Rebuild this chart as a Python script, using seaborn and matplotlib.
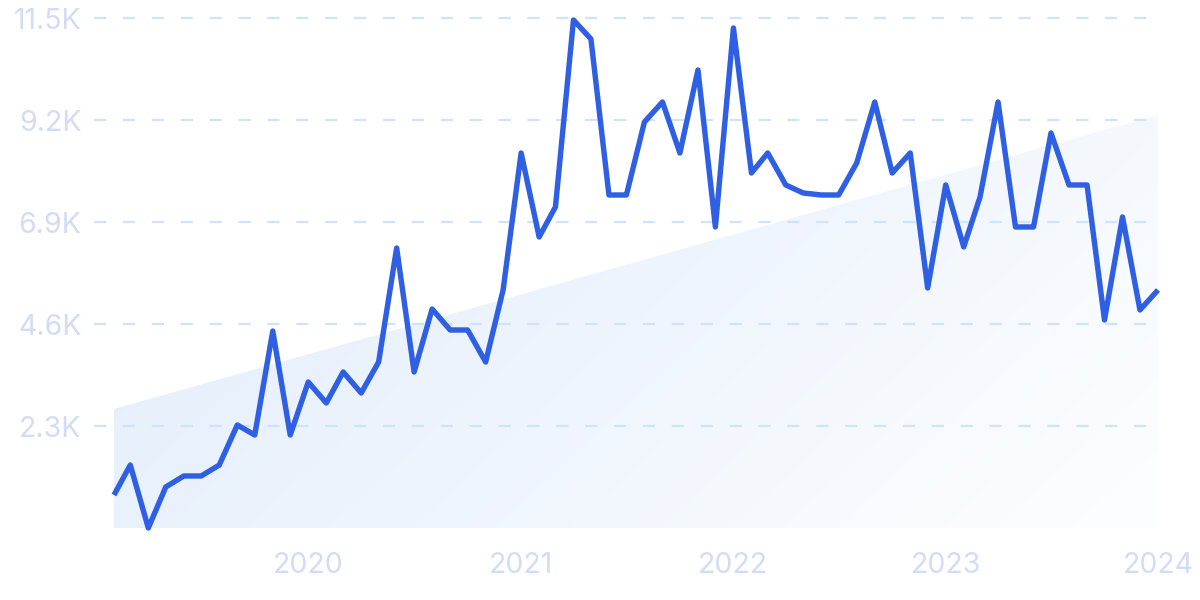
import numpy as np
import pandas as pd
import matplotlib
matplotlib.use("Agg")
import matplotlib.pyplot as plt
import matplotlib.dates as mdates
from matplotlib.patches import Polygon
from matplotlib.colors import to_rgb
import seaborn as sns

# ---- data ----
start_month = "2019-02-01"
values = [744, 1420, 0, 925, 1173, 1173, 1420, 2323, 2097, 4442,
          2097, 3292, 2819, 3518, 3044, 3743, 6314, 3518, 4938, 4465,
          4465, 3743, 5367, 8456, 6562, 7239, 11455, 11027, 7509, 7509,
          9155, 9606, 8456, 10328, 6788, 11275, 8005, 8456, 7735, 7554,
          7509, 7509, 8231, 9606, 8005, 8456, 5412, 7735, 6337, 7464,
          9606, 6788, 6788, 8907, 7735, 7735, 4690, 7013, 4916, 5367]
trend_start, trend_end = 2683, 9313
y_ticks = [2300, 4600, 6900, 9200, 11500]
y_tick_labels = ["2.3K", "4.6K", "6.9K", "9.2K", "11.5K"]
x_years = ["2020", "2021", "2022", "2023", "2024"]

dates = pd.date_range(start_month, periods=len(values), freq="MS")
df = pd.DataFrame({"date": dates, "value": values})

sns.set_theme(style="white")
plt.rcParams["font.family"] = ["Inter", "DejaVu Sans"]

W, H = 1200, 600
fig = plt.figure(figsize=(12, 6), dpi=100)
ax_left_px, ax_right_px = 94, 1160
ax_bottom_px, ax_top_px = 528, 4.7
ax = fig.add_axes([ax_left_px / W, (H - ax_bottom_px) / H,
                   (ax_right_px - ax_left_px) / W, (ax_bottom_px - ax_top_px) / H])

line_color = "#2f5fe3"
label_color = "#d3dcf5"
grid_color = "#cfe4fb"

x0 = mdates.date2num(dates[0])
x1 = mdates.date2num(dates[-1])
days_per_px = (x1 - x0) / (1158 - 114)
ax.set_xlim(x0 - (114 - ax_left_px) * days_per_px, x1 + (ax_right_px - 1158) * days_per_px)
ax.set_ylim(0, 11800)

# gradient trend area
poly = Polygon([(x0, 0), (x0, trend_start), (x1, trend_end), (x1, 0)],
               closed=True, facecolor="none", edgecolor="none", transform=ax.transData)
ax.add_patch(poly)
nx, ny = 300, 150
u = np.linspace(0, 1, nx)[None, :]
v = np.linspace(1, 0, ny)[:, None]
t = np.clip(0.7 * u + 0.3 * (1 - v), 0, 1)
c0 = np.array(to_rgb("#e1ecfb"))
c1 = np.array(to_rgb("#fdfeff"))
img = c0[None, None, :] * (1 - t[..., None]) + c1[None, None, :] * t[..., None]
im = ax.imshow(img, extent=[x0, x1, 0, trend_end], aspect="auto", origin="upper",
               zorder=0, interpolation="bilinear")
im.set_clip_path(poly)

# grid lines
for yt in y_ticks:
    ax.axhline(yt, xmin=0, xmax=(1147 - ax_left_px) / (ax_right_px - ax_left_px),
               color=grid_color, lw=1.6, dashes=(5.5, 7.5), zorder=1)

sns.lineplot(data=df, x="date", y="value", ax=ax, color=line_color, lw=3.9,
             zorder=3, clip_on=False)
for l in ax.get_lines():
    if l.get_color() == line_color:
        l.set_solid_joinstyle("round")
        l.set_solid_capstyle("butt")

ax.set_yticks(y_ticks)
ax.set_yticklabels(y_tick_labels)
ax.set_xticks([mdates.date2num(pd.Timestamp(f"{y}-01-01")) for y in x_years])
ax.set_xticklabels(x_years)
ax.tick_params(axis="y", length=0, pad=9, labelsize=20.5, labelcolor=label_color)
ax.tick_params(axis="x", length=0, pad=17, labelsize=20.5, labelcolor=label_color)
ax.set_xlabel("")
ax.set_ylabel("")
for s in ax.spines.values():
    s.set_visible(False)
ax.set_facecolor("none")

fig.savefig("out.png", dpi=100, facecolor="white")
